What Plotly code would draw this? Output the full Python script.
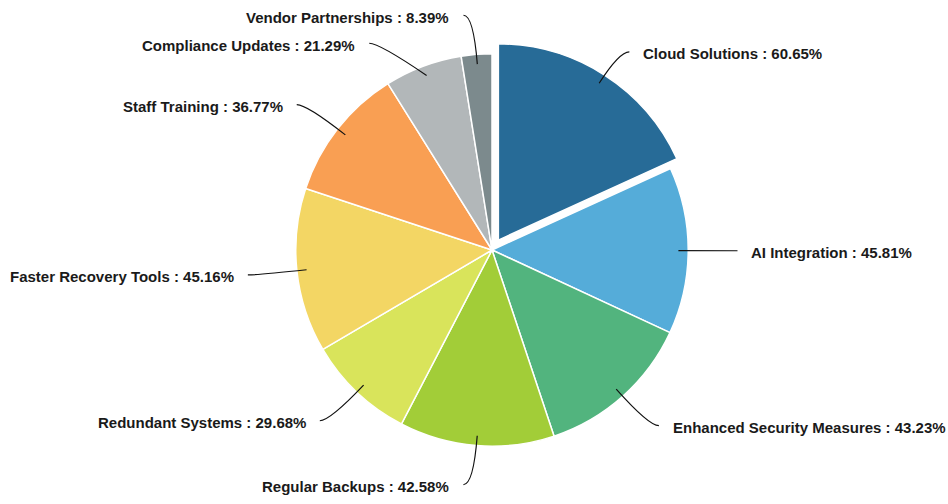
import math
import plotly.graph_objects as go

labels = ["Cloud Solutions", "AI Integration", "Enhanced Security Measures", "Regular Backups",
          "Redundant Systems", "Faster Recovery Tools", "Staff Training", "Compliance Updates",
          "Vendor Partnerships"]
values = [60.65, 45.81, 43.23, 42.58, 29.68, 45.16, 36.77, 21.29, 8.39]
colors = ["#276b97", "#55acd9", "#52b47e", "#a2cd38", "#d9e45b", "#f3d664", "#f99f53",
          "#b2b7b9", "#7c8a8d"]
pulls = [0.06, 0, 0, 0, 0, 0, 0, 0, 0]

W, H = 948, 504
ml, mr, mt, mb = 36, 0, 42, 46
pw, ph = W - ml - mr, H - mt - mb
R = min(pw, ph) / 2 / (1 + max(pulls))  # pie radius in px

fig = go.Figure()
fig.add_trace(go.Pie(
    labels=labels, values=values, sort=False, direction="clockwise", rotation=0,
    pull=pulls, textinfo="none", hoverinfo="label+value",
    marker=dict(colors=colors, line=dict(color="white", width=1.5)),
    showlegend=False,
))


def px(x):  # radius units -> paper
    return (x * R + pw / 2) / pw


def py(y):
    return (y * R + ph / 2) / ph


total = sum(values)
items = []
cum = 0
for lab, v, p in zip(labels, values, pulls):
    mid = (cum + v / 2) / total * 2 * math.pi
    cum += v
    cx, cy = p * math.sin(mid), p * math.cos(mid)
    items.append(dict(
        lab=lab, v=v,
        sx=cx + 0.95 * math.sin(mid), sy=cy + 0.95 * math.cos(mid),
        ex=1.2 * math.sin(mid), ey=1.2 * math.cos(mid),
        side=1 if math.sin(mid) >= 0 else -1))

# push overlapping labels apart, keep them on the label circle
gap = 28 / R
for side in (1, -1):
    grp = sorted([it for it in items if it["side"] == side], key=lambda d: -d["ey"])
    for a, b in zip(grp, grp[1:]):
        if a["ey"] - b["ey"] < gap:
            b["ey"] = a["ey"] - gap
            b["ex"] = side * math.sqrt(max(1.44 - b["ey"] ** 2, 0))

shapes, annos = [], []
tail = 10 / R
for it in items:
    fx = it["ex"] + it["side"] * tail
    shapes.append(dict(
        type="path", xref="paper", yref="paper", layer="above",
        path="M {:.4f} {:.4f} Q {:.4f} {:.4f} {:.4f} {:.4f}".format(
            px(it["sx"]), py(it["sy"]), px(it["ex"]), py(it["ey"]), px(fx), py(it["ey"])),
        line=dict(color="#111111", width=1.2)))
    annos.append(dict(
        x=px(fx + it["side"] * 12 / R), y=py(it["ey"]), xref="paper", yref="paper",
        showarrow=False, xanchor="left" if it["side"] > 0 else "right", yanchor="middle",
        yshift=-2,
        text="<b>{} : {:.2f}%</b>".format(it["lab"], it["v"]),
        font=dict(family="Liberation Sans, Arial", size=15, color="#1a1a1a")))

fig.update_layout(
    width=W, height=H,
    margin=dict(l=ml, r=mr, t=mt, b=mb),
    paper_bgcolor="white", plot_bgcolor="white",
    shapes=shapes, annotations=annos,
)

# drop the default body margin so the full 948x504 figure fits the window
fig.write_html("out.html", config={"displayModeBar": False},
               post_script="document.body.style.margin='0';document.body.style.overflow='hidden';")
